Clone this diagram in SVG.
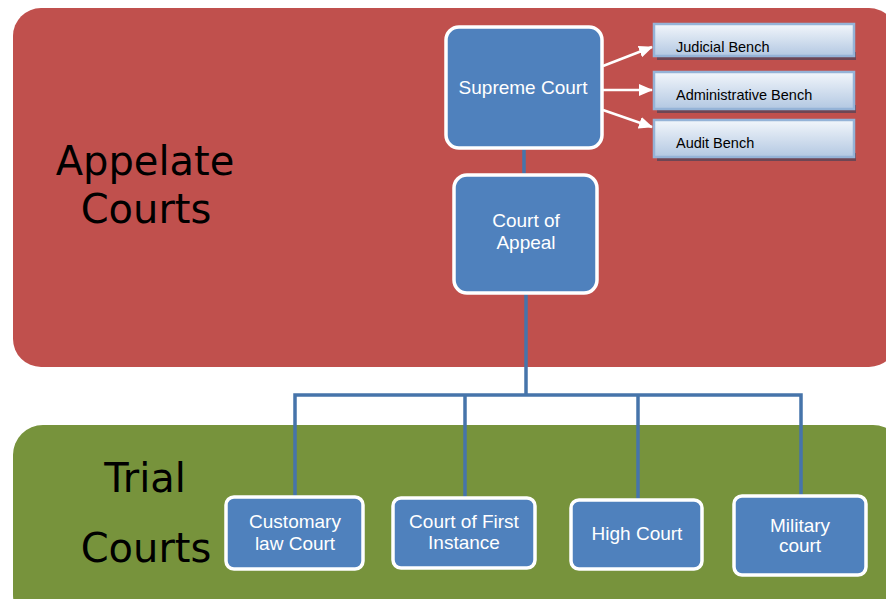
<svg xmlns="http://www.w3.org/2000/svg" width="886" height="599" viewBox="0 0 886 599">
<defs>
<linearGradient id="bench" x1="0" y1="0" x2="0" y2="1">
<stop offset="0" stop-color="#F2F6FB"/>
<stop offset="1" stop-color="#B3C8E2"/>
</linearGradient>
<marker id="arr" markerWidth="14" markerHeight="12" refX="13" refY="6" orient="auto" markerUnits="userSpaceOnUse">
<path d="M0,0 L14,6 L0,12 Z" fill="#FFFFFF"/>
</marker>
<style>
.box{fill:#4F81BD;stroke:#FFFFFF;stroke-width:3.5}
.bench{fill:url(#bench);stroke:#95B3D7;stroke-width:2.5}
.shadow{fill:#6E4654}
.wt{fill:#FFFFFF;font-family:"Liberation Sans",Arial,sans-serif;font-size:19px;text-anchor:middle}
.bt{fill:#000000;font-family:"Liberation Sans",Arial,sans-serif;font-size:14.5px}
.big{fill:#000000;font-family:"DejaVu Sans","Liberation Sans",sans-serif;font-size:40px;text-anchor:middle}
.line{stroke:#4674AA;stroke-width:3.5;fill:none}
.arrow{stroke:#FFFFFF;stroke-width:2.5;fill:none;marker-end:url(#arr)}
</style>
</defs>
<rect width="886" height="599" fill="#FFFFFF"/>
<g id="appellate-region">
<rect x="13" y="8" width="884" height="359" rx="28" fill="#C0504D"/>
<text class="big" x="145" y="175">Appelate</text>
<text class="big" x="146" y="223">Courts</text>
</g>
<g id="trial-region">
<rect x="13" y="425" width="890" height="200" rx="30" fill="#77933C"/>
<text class="big" x="145" y="492">Trial</text>
<text class="big" x="146" y="562">Courts</text>
</g>
<g id="connectors">
<path class="line" d="M524,148 V175"/>
<path class="line" d="M526,293 V395"/>
<path class="line" d="M295,497 V395 H801 V496"/>
<path class="line" d="M465,498 V395"/>
<path class="line" d="M638,500 V395"/>
<path class="arrow" d="M603,66 L652,47"/>
<path class="arrow" d="M603,90 L652,90"/>
<path class="arrow" d="M603,110 L652,127"/>
</g>
<g id="supreme-court">
<rect class="box" x="446" y="27" width="156" height="121" rx="13"/>
<text class="wt" x="523" y="94">Supreme Court</text>
</g>
<g id="court-of-appeal">
<rect class="box" x="454" y="175" width="143" height="118" rx="13"/>
<text class="wt" x="526" y="227">Court of</text>
<text class="wt" x="526" y="249">Appeal</text>
</g>
<g id="judicial-bench">
<rect class="shadow" x="657" y="52" width="199" height="8"/>
<rect class="bench" x="654" y="24" width="200" height="32"/>
<text class="bt" x="676" y="52">Judicial Bench</text>
</g>
<g id="administrative-bench">
<rect class="shadow" x="657" y="105" width="199" height="8"/>
<rect class="bench" x="654" y="72" width="200" height="37"/>
<text class="bt" x="676" y="100">Administrative Bench</text>
</g>
<g id="audit-bench">
<rect class="shadow" x="657" y="153" width="199" height="8"/>
<rect class="bench" x="654" y="120" width="200" height="37"/>
<text class="bt" x="676" y="148">Audit Bench</text>
</g>
<g id="customary-law-court">
<rect class="box" x="226" y="497" width="137" height="72" rx="8"/>
<text class="wt" x="295" y="528">Customary</text>
<text class="wt" x="295" y="550">law Court</text>
</g>
<g id="court-of-first-instance">
<rect class="box" x="393" y="498" width="142" height="70" rx="8"/>
<text class="wt" x="464" y="528">Court of First</text>
<text class="wt" x="464" y="549">Instance</text>
</g>
<g id="high-court">
<rect class="box" x="571" y="500" width="131" height="69" rx="8"/>
<text class="wt" x="637" y="540">High Court</text>
</g>
<g id="military-court">
<rect class="box" x="734" y="496" width="132" height="79" rx="8"/>
<text class="wt" x="800" y="532">Military</text>
<text class="wt" x="800" y="552">court</text>
</g>
</svg>
